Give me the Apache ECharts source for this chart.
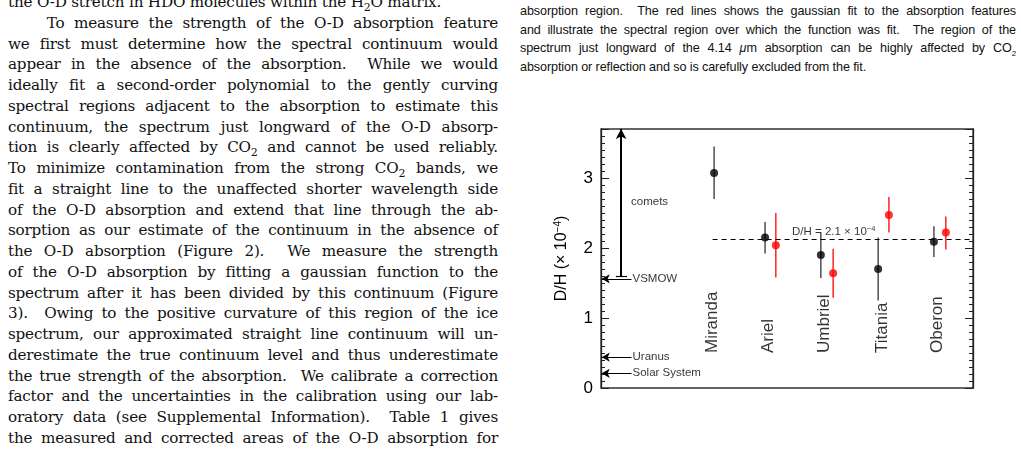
<!DOCTYPE html>
<html><head><meta charset="utf-8">
<script src="https://cdn.jsdelivr.net/npm/echarts@6/dist/echarts.min.js"></script>
<style>
body{margin:0;width:1021px;height:468px;overflow:hidden;background:#fff;position:relative}
.l{position:absolute;left:8px;width:490px;font-family:"DejaVu Serif",serif;font-size:15.2px;letter-spacing:-0.2px;text-align:justify;text-align-last:justify;white-space:nowrap;line-height:20px;color:#111}
.r{position:absolute;left:520px;width:496px;font-family:"Liberation Sans",Arial,sans-serif;font-size:12.6px;letter-spacing:-0.1px;text-align:justify;text-align-last:justify;white-space:nowrap;line-height:14px;color:#111}
.e{text-align-last:left}
#c{position:absolute;left:0;top:0;width:1021px;height:468px}
</style></head><body>
<div id="txt"></div>
<div id="c"></div>
<script>
const leftLines=["the O-D stretch in HDO molecules within the H<sub style='font-size:11px'>2</sub>O matrix.",
"&nbsp;&nbsp;&nbsp;&nbsp;To measure the strength of the O-D absorption feature",
"we first must determine how the spectral continuum would",
"appear in the absence of the absorption.&nbsp; While we would",
"ideally fit a second-order polynomial to the gently curving",
"spectral regions adjacent to the absorption to estimate this",
"continuum, the spectrum just longward of the O-D absorp-",
"tion is clearly affected by CO<sub style='font-size:11px'>2</sub> and cannot be used reliably.",
"To minimize contamination from the strong CO<sub style='font-size:11px'>2</sub> bands, we",
"fit a straight line to the unaffected shorter wavelength side",
"of the O-D absorption and extend that line through the ab-",
"sorption as our estimate of the continuum in the absence of",
"the O-D absorption (Figure 2).&nbsp; We measure the strength",
"of the O-D absorption by fitting a gaussian function to the",
"spectrum after it has been divided by this continuum (Figure",
"3).&nbsp; Owing to the positive curvature of this region of the ice",
"spectrum, our approximated straight line continuum will un-",
"derestimate the true continuum level and thus underestimate",
"the true strength of the absorption.&nbsp; We calibrate a correction",
"factor and the uncertainties in the calibration using our lab-",
"oratory data (see Supplemental Information).&nbsp; Table 1 gives",
"the measured and corrected areas of the O-D absorption for"];
const rightLines=["absorption region.&nbsp; The red lines shows the gaussian fit to the absorption features",
"and illustrate the spectral region over which the function was fit.&nbsp; The region of the",
"spectrum just longward of the 4.14 <i>&mu;</i>m absorption can be highly affected by CO<sub style='font-size:8px'>2</sub>",
"absorption or reflection and so is carefully excluded from the fit."];
let h='';
leftLines.forEach((t,i)=>{h+=`<div class="l${i===0?' e':''}" style="top:${-8+i*20.75}px">${t}</div>`;});
rightLines.forEach((t,i)=>{h+=`<div class="r${i===3?' e':''}" style="top:${4+i*18.7}px">${t}</div>`;});
document.getElementById('txt').innerHTML=h;

// data
const moons=["Miranda","Ariel","Umbriel","Titania","Oberon"];
const moonLabelX=[3.0,4.5,6.0,7.55,9.05];
const blackX=[3.04,4.41,5.91,7.45,8.95];
const blackVal=[3.07,2.15,1.90,1.70,2.09];
const blackLow=[2.70,1.92,1.57,1.25,1.87];
const blackHigh=[3.45,2.37,2.22,2.15,2.31];
const redX=[4.70,6.24,7.74,9.27];
const redVal=[2.04,1.64,2.47,2.22];
const redLow=[1.58,1.29,2.22,1.98];
const redHigh=[2.50,1.99,2.73,2.45];
const meanDH=2.13;
const refNames=["VSMOW","Uranus","Solar System"];
const refVal=[1.56,0.44,0.21];
const cometsLow=1.6, cometsHigh=3.7, cometsY=2.66;

function errSeries(xs,lo,hi,color){
  return {type:'custom',silent:true,data:xs.map((x,i)=>[x,lo[i],hi[i]]),
    renderItem:(p,api)=>{const a=api.coord([api.value(0),api.value(1)]),b=api.coord([api.value(0),api.value(2)]);
      return {type:'line',shape:{x1:a[0],y1:a[1],x2:b[0],y2:b[1]},style:{stroke:color,lineWidth:1.3}};}};
}
const chart=echarts.init(document.getElementById('c'));
const ax={fontFamily:'Liberation Sans',color:'#000'};
const yBase={type:'value',min:0,max:3.7,interval:1,axisLine:{show:true,onZero:false,lineStyle:{color:'#222',width:1.3}},
    axisTick:{show:true,length:8,inside:true,lineStyle:{color:'#222'}},
    minorTick:{show:true,splitNumber:10,length:4,lineStyle:{color:'#222'}},splitLine:{show:false},minorSplitLine:{show:false}};
chart.setOption({
  animation:false,
  grid:{left:601,right:48,top:129,bottom:80,show:true,borderColor:'#333',borderWidth:1.3},
  xAxis:[{type:'value',min:0,max:10,axisLine:{show:false},axisTick:{show:false},axisLabel:{show:false},splitLine:{show:false}}],
  yAxis:[{...yBase,position:'left',
    axisLabel:{...ax,fontSize:17,margin:8,showMaxLabel:false,formatter:v=>v<3.5?v:''},
    name:'{a|D/H (× 10}{s|−4}{a|)}',nameLocation:'middle',nameGap:30,nameRotate:90,
    nameTextStyle:{rich:{a:{...ax,fontSize:16},s:{...ax,fontSize:10,verticalAlign:'top',padding:[0,0,8,0]}}}},
    {...yBase,position:'right',axisLabel:{show:false}}],
  series:[
    {type:'line',yAxisIndex:1,data:[],silent:true},
    errSeries(blackX,blackLow,blackHigh,'#333'),
    errSeries(redX,redLow,redHigh,'#f00'),
    {type:'scatter',data:blackX.map((x,i)=>[x,blackVal[i]]),symbolSize:8,itemStyle:{color:'#000'},z:5},
    {type:'scatter',data:redX.map((x,i)=>[x,redVal[i]]),symbolSize:8,itemStyle:{color:'#f00'},z:5},
    {type:'scatter',data:moons.map((m,i)=>({value:[moonLabelX[i],0.5],name:m})),symbolSize:0,
      label:{show:true,position:'inside',rotate:90,align:'left',verticalAlign:'middle',formatter:'{b}',...ax,fontSize:17}},
    {type:'line',data:[],markLine:{silent:true,symbol:['none','none'],label:{show:false},
      lineStyle:{color:'#000',type:[5,4],width:1.2},data:[[{coord:[3.0,meanDH]},{coord:[10,meanDH]}]]}},
    {type:'scatter',data:[{value:[5.0,meanDH+0.1],name:'D/H = 2.1 × 10'}],symbolSize:0,
      label:{show:true,position:'right',formatter:'{a|D/H = 2.1 × 10}{s|−4}',rich:{a:{...ax,fontSize:11.5},s:{...ax,fontSize:7.5,verticalAlign:'top',padding:[0,0,6,0]}}}},
    {type:'line',data:[],markLine:{silent:true,label:{show:false},symbolSize:[8,10],
      data:[
        [{coord:[0.54,cometsLow],symbol:'none',lineStyle:{width:2,color:'#000',type:'solid'}},{coord:[0.54,cometsHigh],symbol:'arrow',symbolSize:[8,10]}],
        [{coord:[0.4,cometsLow],symbol:'none',lineStyle:{width:1.2,color:'#000',type:'solid'}},{coord:[0.7,cometsLow],symbol:'none'}],
        ...refVal.map(v=>[{coord:[0.82,v],symbol:'none',lineStyle:{width:1,color:'#000',type:'solid'}},{coord:[0.02,v],symbol:'arrow',symbolSize:[7,8]}])
      ]}},
    {type:'scatter',data:[...refNames.map((n,i)=>({value:[0.82,refVal[i]],name:n})),{value:[0.78,cometsY],name:'comets'}],symbolSize:0,
      label:{show:true,position:'right',distance:1,formatter:'{b}',...ax,fontSize:11.5}}
  ]
});
</script></body></html>
